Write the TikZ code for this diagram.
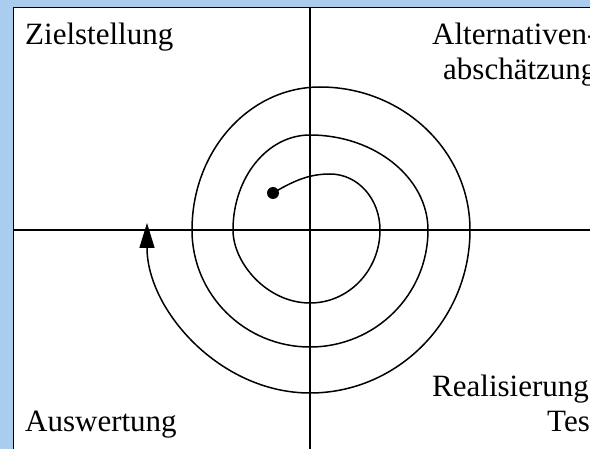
\documentclass[tikz,border=0pt]{standalone}
\usepackage{fontspec}
\setmainfont{Liberation Serif}
\usetikzlibrary{arrows.meta}
\definecolor{frameblue}{RGB}{170,204,238}

\begin{document}
\begin{tikzpicture}[
  x=1pt, y=-1pt,
  phase/.style={anchor=base west, inner sep=0pt, font=\fontsize{31}{35}\selectfont},
  axis/.style={line width=1.8pt},
  spiral/.style={line width=1.5pt},
  dot/.style={circle, fill=black, inner sep=0pt, minimum size=12pt},
  >={Triangle[length=25pt,width=15pt]}
]
  \useasboundingbox (0,0) rectangle (590,449);
  \clip (0,0) rectangle (590,449);
  \fill[frameblue] (0,0) rectangle (590,449);
  \draw[fill=white, line width=1pt] (13.5,7.5) rectangle (600,460);

  % Axes
  \coordinate (n) at (310,7.5);
  \coordinate (s) at (310,449);
  \coordinate (w) at (13.5,230);
  \coordinate (e) at (590,230);
  \draw[axis] (n) -- (s);
  \draw[axis] (w) -- (e);

  % Quadrant labels
  \node[phase] (ziel) at (25,45) {Zielstellung};
  \node[phase] (alt1) at (432,45) {Alternativen-};
  \node[phase] (alt2) at (443,80) {abschätzung};
  \node[phase] (real) at (432,397) {Realisierung};
  \node[phase] (test) at (547,432) {Test};
  \node[phase] (ausw) at (25,432) {Auswertung};

  % Spiral, from the dot outwards
  \node[dot] (start) at (273,193) {};
  \coordinate (end) at (147,223);
  \draw[spiral, ->] (start.center)
    .. controls (295,180) and (310,174) .. (330,174)
    .. controls (358,174) and (380,199) .. (380,230)
    .. controls (380,270) and (349,303) .. (310,303)
    .. controls (267,303) and (233,263) .. (233,230)
    .. controls (233,178) and (267,135) .. (310,135)
    .. controls (375,135) and (428,178) .. (428,230)
    .. controls (428,295) and (375,347) .. (310,347)
    .. controls (245,347) and (192,295) .. (192,230)
    .. controls (192,151) and (249,87) .. (320,87)
    .. controls (403,87) and (470,151) .. (470,230)
    .. controls (470,320) and (398,393) .. (310,393)
    .. controls (220,393) and (147,310) .. (end);
\end{tikzpicture}
\end{document}
